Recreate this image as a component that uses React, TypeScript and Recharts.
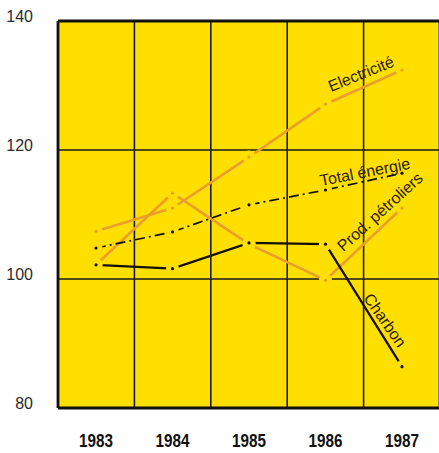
import {
  CartesianGrid,
  ComposedChart,
  Line,
  ReferenceDot,
  Scatter,
  XAxis,
  YAxis,
} from "recharts";

const years = ["1983", "1984", "1985", "1986", "1987"];
const electricite = [107.4, 111.0, 118.9, 127.1, 132.4];
const totalEnergie = [104.8, 107.3, 111.5, 113.8, 116.4];
const prodPetroliers = [102.2, 113.3, 105.4, 99.8, 111.0];
const charbon = [102.2, 101.6, 105.6, 105.4, 86.4];
const yTicks = [80, 100, 120, 140];
const valueRules = [100, 120];
const frameValues = [80, 140];
// rules between the five year columns, as fractions of the plot width
const columnRules = [1, 2, 3, 4];
const frameColumns = [0, 5];

const YELLOW = "#FFDF00";
const ORANGE = "#EA9F2C";
const INK = "#151000";
const FONT = "'Liberation Sans', Arial, sans-serif";

const data = years.map((year, i) => ({
  year,
  electricite: electricite[i],
  totalEnergie: totalEnergie[i],
  prodPetroliers: prodPetroliers[i],
  charbon: charbon[i],
}));

type Note = { text: string; year: string; value: number; dx: number; angle: number };

// series names written along the lines, anchored in data units
const notes: Note[] = [
  { text: "Electricité", year: "1987", value: 131.8, dx: -41, angle: -22 },
  { text: "Total énergie", year: "1987", value: 116.6, dx: -37, angle: -11 },
  { text: "Prod. pétroliers", year: "1987", value: 110.4, dx: -22, angle: -42 },
  { text: "Charbon", year: "1987", value: 93.6, dx: -17, angle: 55 },
];

const series = [
  { key: "electricite", color: ORANGE, width: 2.6, dash: undefined },
  { key: "prodPetroliers", color: ORANGE, width: 2.6, dash: undefined },
  { key: "totalEnergie", color: INK, width: 1.7, dash: "10 4 2 4" },
  { key: "charbon", color: INK, width: 2.3, dash: undefined },
];

const columnsAt = (cols: number[]) => ({ offset }: any) =>
  cols.map((c) => offset.left + (c * offset.width) / years.length);

// the line breaks off around each yearly point, with a small dot in the gap
const gapMark = (color: string) => (props: any) => {
  const { cx, cy } = props;
  if (cx == null || cy == null) return <g />;
  return (
    <g>
      <circle cx={cx} cy={cy} r={6.5} fill={YELLOW} />
      <circle cx={cx} cy={cy} r={1.6} fill={color} />
    </g>
  );
};

const YearTick = (props: any) => {
  const { x, y, payload } = props;
  return (
    <text
      x={x}
      y={y + 39}
      textAnchor="middle"
      fontFamily={FONT}
      fontWeight="bold"
      fontSize={19}
      fill="#111"
      textLength={34}
      lengthAdjust="spacingAndGlyphs"
    >
      {payload.value}
    </text>
  );
};

const ValueTick = (props: any) => {
  const { x, y, payload } = props;
  return (
    <text x={x - 25} y={y + 1} textAnchor="end" fontFamily={FONT} fontSize={16} fill="#2a2a2a">
      {payload.value}
    </text>
  );
};

export default function App() {
  return (
    <div
      style={{
        position: "absolute",
        left: 0,
        top: 0,
        width: 439,
        height: 453,
        overflow: "hidden",
        background: "#fff",
      }}
    >
      <ComposedChart width={440} height={453} data={data} margin={{ top: 21, right: 0, bottom: 0, left: 0 }}>
        <CartesianGrid
          fill={YELLOW}
          stroke="#1a1a1a"
          strokeWidth={1.6}
          horizontalValues={valueRules}
          verticalCoordinatesGenerator={columnsAt(columnRules)}
        />
        <CartesianGrid
          stroke="#111"
          strokeWidth={2.8}
          horizontalValues={frameValues}
          verticalCoordinatesGenerator={columnsAt(frameColumns)}
        />
        <XAxis
          dataKey="year"
          height={45}
          padding={{ left: 38, right: 38 }}
          axisLine={false}
          tickLine={false}
          tickSize={0}
          tickMargin={0}
          tick={<YearTick />}
        />
        <YAxis
          width={58}
          domain={[80, 140]}
          ticks={yTicks}
          axisLine={false}
          tickLine={false}
          tickSize={0}
          tickMargin={0}
          tick={<ValueTick />}
        />
        {series.map((s) => (
          <Line
            key={s.key}
            dataKey={s.key}
            stroke={s.color}
            strokeWidth={s.width}
            strokeDasharray={s.dash}
            dot={false}
            activeDot={false}
            isAnimationActive={false}
          />
        ))}
        {series.map((s) => (
          <Scatter
            key={`${s.key}-gaps`}
            dataKey={s.key}
            shape={gapMark(s.color)}
            isAnimationActive={false}
          />
        ))}
        {notes.map((n) => (
          <ReferenceDot
            key={n.text}
            x={n.year}
            y={n.value}
            r={0}
            zIndex={700}
            shape={(p: any) => (
              <text
                x={p.cx + n.dx}
                y={p.cy}
                transform={`rotate(${n.angle} ${p.cx + n.dx} ${p.cy})`}
                textAnchor="middle"
                dominantBaseline="central"
                fontFamily={FONT}
                fontSize={16}
                fill="#2a2000"
              >
                {n.text}
              </text>
            )}
          />
        ))}
      </ComposedChart>
    </div>
  );
}
